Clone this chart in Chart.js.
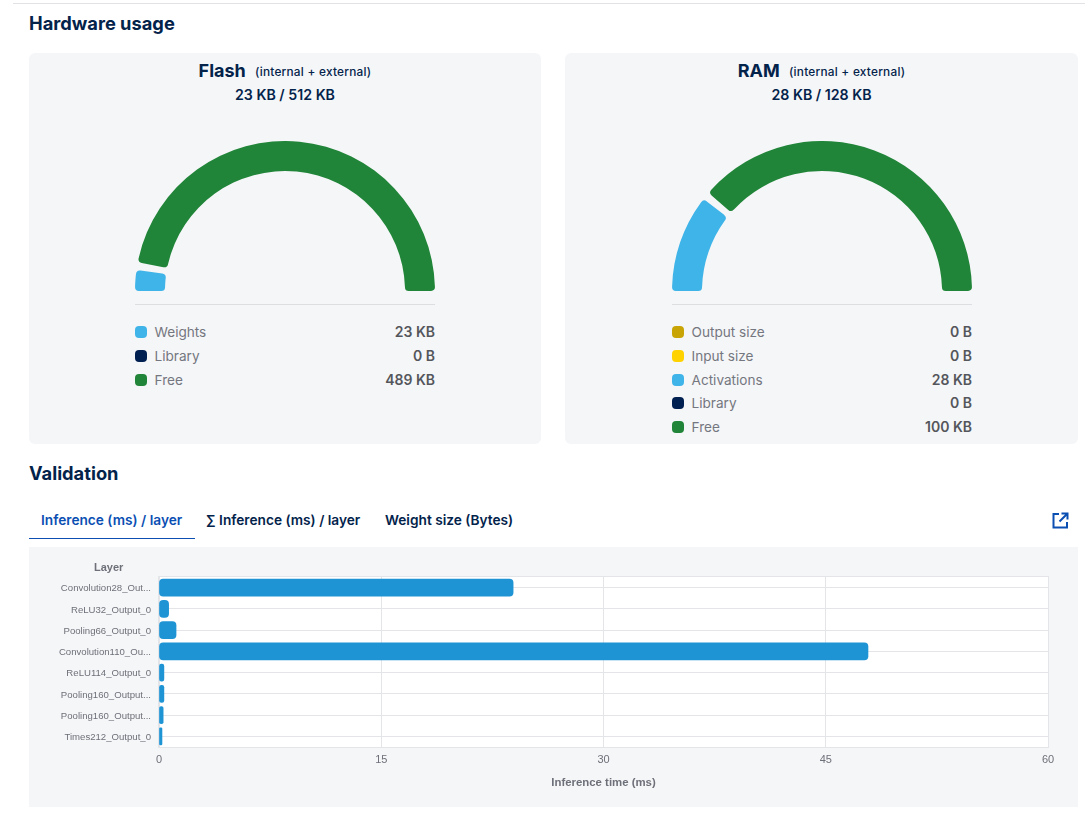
<!DOCTYPE html>
<html>
<head>
<meta charset="utf-8">
<title>Hardware usage</title>
<script src="https://cdn.jsdelivr.net/npm/chart.js@4"></script>
<style>
  html, body { margin: 0; padding: 0; background: #fff; overflow: hidden; }
  body { width: 1085px; height: 816px; position: relative; font-family: Inter, "Liberation Sans", sans-serif; color: #03234b; }
  .rule { position: absolute; left: 13px; right: 0; top: 3px; height: 1px; background: #e1e2e5; }
  h2 { position: absolute; margin: 0; left: 29px; font-size: 18.3px; line-height: 22px; font-weight: 700; }
  .panel { position: absolute; top: 53px; height: 391px; background: #f5f6f8; border-radius: 6px; }
  .head { position: absolute; left: 0; right: 0; top: 6.5px; text-align: center; font-weight: 700; font-size: 18px; line-height: 22px; white-space: nowrap; }
  .head small { font-size: 11.8px; font-weight: 500; letter-spacing: 0.25px; margin-left: 5px; position: relative; top: -1px; }
  .usage { position: absolute; left: 0; right: 0; top: 33px; text-align: center; font-size: 14.2px; line-height: 18px; font-weight: 600; }
  .divider { position: absolute; width: 300px; top: 251px; height: 1px; background: #dcdee2; }
  .gauge { position: absolute; }
  .row { position: absolute; width: 300px; height: 20px; line-height: 20px; font-size: 13.6px; color: #74777f; }
  .row i { position: absolute; left: 0; top: 4px; width: 12px; height: 12px; border-radius: 4px; }
  .row span { position: absolute; left: 19.5px; }
  .row b { position: absolute; right: 0; font-weight: 600; font-size: 14px; color: #54565c; }
  .tab { position: absolute; top: 510px; line-height: 20px; font-size: 13.7px; font-weight: 600; white-space: nowrap; }
  .tab.on { color: #0b4fb3; }
  .underline { position: absolute; left: 29px; top: 538px; width: 166px; height: 1px; background: #0b4fb3; }
  #barPanel { position: absolute; left: 29px; top: 547px; width: 1049px; height: 260px; background: #f5f6f8; }
  #barPanel div { position: absolute; left: 0; top: 0; width: 1049px; height: 260px; }
  .axisName { position: absolute; top: 560px; font: bold 11px "Liberation Sans", sans-serif; line-height: 14px; color: #6e7079; }
  svg.open { position: absolute; left: 1052px; top: 512px; }
</style>
</head>
<body>
<div class="rule"></div>
<h2 style="top:12px">Hardware usage</h2>

<div class="panel" style="left:29px;width:512px" id="flashPanel"></div>
<div class="panel" style="left:565px;width:513px" id="ramPanel"></div>

<h2 style="top:462px">Validation</h2>
<div class="tab on" style="left:41px">Inference (ms) / layer</div>
<div class="tab" style="left:206px">∑ Inference (ms) / layer</div>
<div class="tab" style="left:385px">Weight size (Bytes)</div>
<div class="underline"></div>
<svg class="open" width="17" height="17" viewBox="0 0 17 17" fill="none" stroke="#0b4fb3" stroke-width="2">
  <path d="M7 2H1.5V15.5H15V10"/>
  <path d="M9.5 1.5H15.5V7.5M15 2L7.5 9.5"/>
</svg>

<div id="barPanel"><div><canvas id="layerChart" width="1049" height="260"></canvas></div></div>
<div class="axisName" style="left:94px">Layer</div>

<script>
// Memory budget per gauge, in KB
const flashLabels = ['Weights', 'Library', 'Free'];
const flashValues = [23, 0, 489];
const flashText = ['23 KB', '0 B', '489 KB'];
const flashColors = ['#3fb4e8', '#002052', '#208538'];
const flashRowTops = [269, 293, 317];
const flashGap = [0, 3];

const ramLabels = ['Output size', 'Input size', 'Activations', 'Library', 'Free'];
const ramValues = [0, 0, 28, 0, 100];
const ramText = ['0 B', '0 B', '28 KB', '0 B', '100 KB'];
const ramColors = ['#c8a404', '#ffd200', '#3fb4e8', '#002052', '#208538'];
const ramRowTops = [269, 293, 317, 340, 364];
const ramGap = [1.5, 1.5];

// Per-layer inference time, in ms
const layerNames = [
  'Convolution28_Out...', 'ReLU32_Output_0', 'Pooling66_Output_0', 'Convolution110_Ou...',
  'ReLU114_Output_0', 'Pooling160_Output...', 'Pooling160_Output...', 'Times212_Output_0'
];
const layerTimes = [23.9, 0.65, 1.15, 47.85, 0.33, 0.33, 0.28, 0.2];
const timeTicks = [0, 15, 30, 45, 60];

const uiFont = '"Liberation Sans", sans-serif';

function buildPanel(panelId, inset, title, usage, labels, text, colors, tops) {
  const panel = document.getElementById(panelId);
  let html = '<div class="head">' + title + ' <small>(internal + external)</small></div>' +
    '<div class="usage">' + usage + '</div><div class="divider" style="left:' + inset + 'px"></div>';
  labels.forEach((label, i) => {
    html += '<div class="row" style="left:' + inset + 'px;top:' + tops[i] + 'px"><i style="background:' + colors[i] + '"></i>' +
      '<span>' + label + '</span><b>' + text[i] + '</b></div>';
  });
  panel.innerHTML = html;
}

// Opens an angular gap between the visible segments while keeping the outer ends on the baseline
function segmentGap(before, after) {
  const rad = Math.PI / 180;
  return {
    id: 'segmentGap',
    afterDatasetsUpdate(chart) {
      const arcs = chart.getDatasetMeta(0).data.filter(arc => arc.circumference > 0);
      arcs.slice(0, -1).forEach((arc, i) => {
        const next = arcs[i + 1];
        arc.endAngle -= before * rad;
        next.startAngle += after * rad;
        arc.circumference = arc.endAngle - arc.startAngle;
        next.circumference = next.endAngle - next.startAngle;
      });
    }
  };
}

function buildGauge(panelId, inset, labels, values, colors, gap) {
  const panel = document.getElementById(panelId);
  const box = document.createElement('div');
  box.className = 'gauge';
  box.style.cssText = 'left:' + inset + 'px;top:88px;width:300px;height:150px';
  const canvas = document.createElement('canvas');
  canvas.width = 300;
  canvas.height = 150;
  box.appendChild(canvas);
  panel.appendChild(box);
  new Chart(canvas, {
    type: 'doughnut',
    data: { labels: labels, datasets: [{ data: values, backgroundColor: colors, borderWidth: 0, borderRadius: 4 }] },
    plugins: [segmentGap(gap[0], gap[1])],
    options: {
      responsive: false,
      animation: false,
      rotation: -90,
      circumference: 180,
      cutout: '80%',
      plugins: { legend: { display: false }, tooltip: { enabled: false } }
    }
  });
}

buildPanel('flashPanel', 106, 'Flash', '23 KB / 512 KB', flashLabels, flashText, flashColors, flashRowTops);
buildPanel('ramPanel', 107, 'RAM', '28 KB / 128 KB', ramLabels, ramText, ramColors, ramRowTops);
buildGauge('flashPanel', 106, flashLabels, flashValues, flashColors, flashGap);
buildGauge('ramPanel', 107, ramLabels, ramValues, ramColors, ramGap);

// White plot background and outer frame behind the bars
const plotFrame = {
  id: 'plotFrame',
  beforeDraw(chart) {
    const a = chart.chartArea, ctx = chart.ctx;
    ctx.save();
    ctx.fillStyle = '#ffffff';
    ctx.fillRect(a.left, a.top, a.width, a.height);
    ctx.strokeStyle = '#e4e5e9';
    ctx.lineWidth = 1;
    ctx.strokeRect(a.left - 0.5, a.top - 0.5, a.width + 1, a.height + 1);
    ctx.restore();
  }
};

new Chart(document.getElementById('layerChart'), {
  type: 'bar',
  data: {
    labels: layerNames,
    datasets: [{ data: layerTimes, backgroundColor: '#1e94d5', borderRadius: 4, borderSkipped: false, barThickness: 17 }]
  },
  plugins: [plotFrame],
  options: {
    indexAxis: 'y',
    responsive: false,
    animation: false,
    layout: { padding: { top: 30, right: 30, bottom: 0, left: 0 } },
    plugins: { legend: { display: false }, tooltip: { enabled: false } },
    scales: {
      x: {
        min: 0,
        max: 60,
        afterBuildTicks(scale) { scale.ticks = timeTicks.map(v => ({ value: v })); },
        afterFit(scale) { scale.height = 60; },
        grid: { color: '#e4e5e9', drawTicks: false },
        border: { display: false },
        ticks: { color: '#6e7079', font: { family: uiFont, size: 11 }, padding: 6, maxRotation: 0 },
        title: { display: true, text: 'Inference time (ms)', color: '#6e7079', font: { family: uiFont, size: 11.4, weight: 'bold' }, padding: { top: 0, bottom: 17 } }
      },
      y: {
        afterFit(scale) { scale.width = 130; },
        grid: { color: '#e4e5e9', drawTicks: false, offset: false },
        border: { display: false },
        ticks: { color: '#6e7079', font: { family: uiFont, size: 9.6 }, padding: 8, autoSkip: false, labelOffset: 1 }
      }
    }
  }
});
</script>
</body>
</html>
